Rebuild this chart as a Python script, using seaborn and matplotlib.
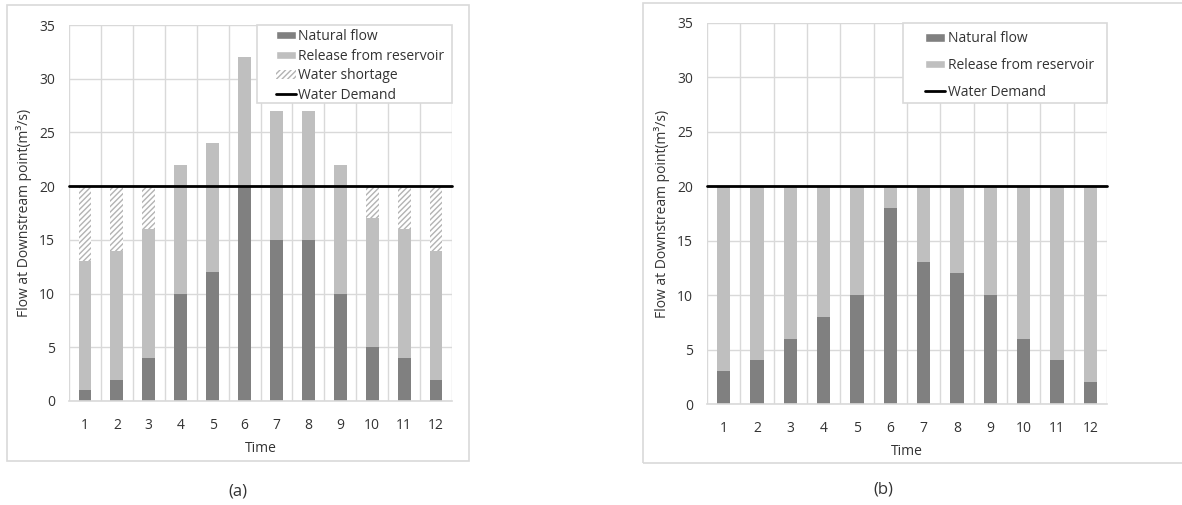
import numpy as np
import pandas as pd
import matplotlib.pyplot as plt
import matplotlib.patches as mpatches
import matplotlib.lines as mlines
import seaborn as sns

# data
time = [1, 2, 3, 4, 5, 6, 7, 8, 9, 10, 11, 12]
demand = 20

natural_a = [1, 2, 4, 10, 12, 20, 15, 15, 10, 5, 4, 2]
release_a = [12, 12, 12, 12, 12, 12, 12, 12, 12, 12, 12, 12]

natural_b = [3, 4, 6, 8, 10, 18, 13, 12, 10, 6, 4, 2]
release_b = [17, 16, 14, 12, 10, 2, 7, 8, 10, 14, 16, 18]

DARK = '#808080'
LIGHT = '#bfbfbf'
GRID = '#d9d9d9'
TXT = '#333333'
FS = 10

sns.set_style('white')
plt.rcParams['font.family'] = ['Open Sans', 'DejaVu Sans']
plt.rcParams['hatch.linewidth'] = 1.0

fig = plt.figure(figsize=(11.82, 5.05), dpi=100)

# panel frames
fig.patches.append(mpatches.Rectangle((7 / 1182, 1 - 461 / 505), 462 / 1182, 456 / 505,
                                      transform=fig.transFigure, fill=False,
                                      edgecolor=GRID, linewidth=1.2))
fig.patches.append(mpatches.Rectangle((643 / 1182, 1 - 463 / 505), 560 / 1182, 460 / 505,
                                      transform=fig.transFigure, fill=False,
                                      edgecolor=GRID, linewidth=1.2))

ax_a = fig.add_axes([69 / 1182, 1 - 401 / 505, 383 / 1182, 376 / 505])
ax_b = fig.add_axes([707 / 1182, 1 - 404 / 505, 400 / 1182, 381 / 505])


def style_axis(ax):
    ax.set_ylim(0, 35)
    ax.set_xlim(-0.5, 11.5)
    ax.set_yticks(np.arange(0, 36, 5))
    ax.set_xticks(np.arange(12), [str(t) for t in time])
    ax.set_xticks(np.arange(-0.5, 12, 1), minor=True)
    ax.grid(axis='y', which='major', color=GRID, linewidth=1)
    ax.grid(axis='x', which='minor', color=GRID, linewidth=1)
    ax.set_axisbelow(True)
    for s in ['top', 'right', 'left']:
        ax.spines[s].set_visible(False)
    ax.spines['bottom'].set_color(GRID)
    ax.spines['bottom'].set_linewidth(1.2)
    ax.tick_params(axis='x', which='major', length=0, pad=12, labelsize=FS, colors=TXT)
    ax.tick_params(axis='x', which='minor', length=5, color=GRID, width=1.2)
    ax.tick_params(axis='y', length=0, pad=10, labelsize=FS, colors=TXT)
    ax.set_xlabel('Time', fontsize=FS, color=TXT, labelpad=6)
    ax.set_ylabel('Flow at Downstream point(m³/s)', fontsize=FS, color=TXT, labelpad=5)


def legend_box(ax, handles, x0, y0, hx, spacing, pad):
    # Excel-like legend: white framed box plus frameless legend inside
    ax.add_patch(mpatches.Rectangle((x0, y0), 1 - x0, 1 - y0, transform=ax.transAxes,
                                    facecolor='white', edgecolor=GRID, linewidth=1.2,
                                    zorder=4, clip_on=False))
    ax.legend(handles=handles, loc='upper left', bbox_to_anchor=(hx, 1.0),
              borderaxespad=0, borderpad=pad, fontsize=FS, frameon=False,
              handlelength=1.45, handleheight=0.55, handletextpad=0.15,
              labelspacing=spacing, labelcolor=TXT)


# panel (a): layered bars, tallest first
total_a = np.array(natural_a) + np.array(release_a)
short_top = np.where(total_a < demand, demand, 0)
df_a = pd.DataFrame({'time': time, 'natural': natural_a, 'total': total_a, 'short': short_top})

sns.barplot(data=df_a, x='time', y='short', ax=ax_a, color='white', width=0.4,
            saturation=1, errorbar=None, linewidth=0, edgecolor='#b3b3b3', hatch='//////')
sns.barplot(data=df_a, x='time', y='total', ax=ax_a, color=LIGHT, width=0.4,
            saturation=1, errorbar=None, linewidth=0)
sns.barplot(data=df_a, x='time', y='natural', ax=ax_a, color=DARK, width=0.4,
            saturation=1, errorbar=None, linewidth=0)
ax_a.axhline(demand, color='black', linewidth=2, clip_on=False)
style_axis(ax_a)

h_nat = mpatches.Patch(facecolor=DARK, label='Natural flow')
h_rel = mpatches.Patch(facecolor=LIGHT, label='Release from reservoir')
h_short = mpatches.Patch(facecolor='white', edgecolor='#b3b3b3', linewidth=0,
                         hatch='//////', label='Water shortage')
h_dem = mlines.Line2D([], [], color='black', linewidth=2, label='Water Demand')

legend_box(ax_a, [h_nat, h_rel, h_short, h_dem], 0.491, 0.793, 0.53, 0.33, 0.3)

# panel (b)
total_b = np.array(natural_b) + np.array(release_b)
df_b = pd.DataFrame({'time': time, 'natural': natural_b, 'total': total_b})
sns.barplot(data=df_b, x='time', y='total', ax=ax_b, color=LIGHT, width=0.4,
            saturation=1, errorbar=None, linewidth=0)
sns.barplot(data=df_b, x='time', y='natural', ax=ax_b, color=DARK, width=0.4,
            saturation=1, errorbar=None, linewidth=0)
ax_b.axhline(demand, color='black', linewidth=2, clip_on=False)
style_axis(ax_b)

legend_box(ax_b, [h_nat, h_rel, h_dem], 0.49, 0.79, 0.525, 0.85, 0.6)

fig.text(238 / 1182, 1 - 491 / 505, '(a)', ha='center', va='center', fontsize=12, color=TXT)
fig.text(883 / 1182, 1 - 490 / 505, '(b)', ha='center', va='center', fontsize=12, color=TXT)

fig.savefig('out.png', dpi=100)
